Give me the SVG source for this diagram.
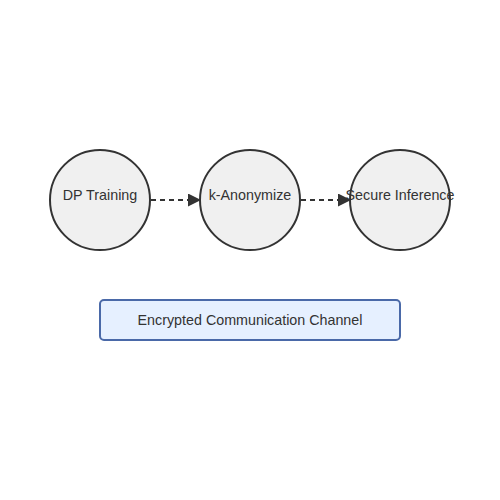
<svg xmlns="http://www.w3.org/2000/svg" width="500" height="500" viewBox="0 0 500 500">
<style>
.node{fill:#f0f0f0;stroke:#333;stroke-width:2}
.lbl{font-family:"Liberation Sans",Arial,sans-serif;font-size:14.3px;fill:#333;text-anchor:middle}
.edge{stroke:#333;stroke-width:2;stroke-dasharray:5,4;fill:none}
.chan{fill:#e6f0ff;stroke:#4a69a8;stroke-width:2}
</style>
<defs>
<marker id="arr" markerUnits="userSpaceOnUse" markerWidth="13" markerHeight="13" refX="13" refY="6.5" orient="auto">
<path d="M0,0 L13,6.5 L0,13 z" fill="#333"/>
</marker>
</defs>
<rect width="500" height="500" fill="#fff"/>
<g id="connectors">
<line class="edge" x1="151" y1="200" x2="201" y2="200" marker-end="url(#arr)"/>
<line class="edge" x1="301" y1="200" x2="351" y2="200" marker-end="url(#arr)"/>
</g>
<g id="node-dp">
<circle class="node" cx="100" cy="200" r="50"/>
<text class="lbl" x="100" y="200">DP Training</text>
</g>
<g id="node-kanon">
<circle class="node" cx="250" cy="200" r="50"/>
<text class="lbl" x="250" y="200">k-Anonymize</text>
</g>
<g id="node-secure">
<circle class="node" cx="400" cy="200" r="50"/>
<text class="lbl" x="400" y="200">Secure Inference</text>
</g>
<g id="node-channel">
<rect class="chan" x="100" y="300" width="300" height="40" rx="4"/>
<text class="lbl" x="250" y="325">Encrypted Communication Channel</text>
</g>
</svg>
